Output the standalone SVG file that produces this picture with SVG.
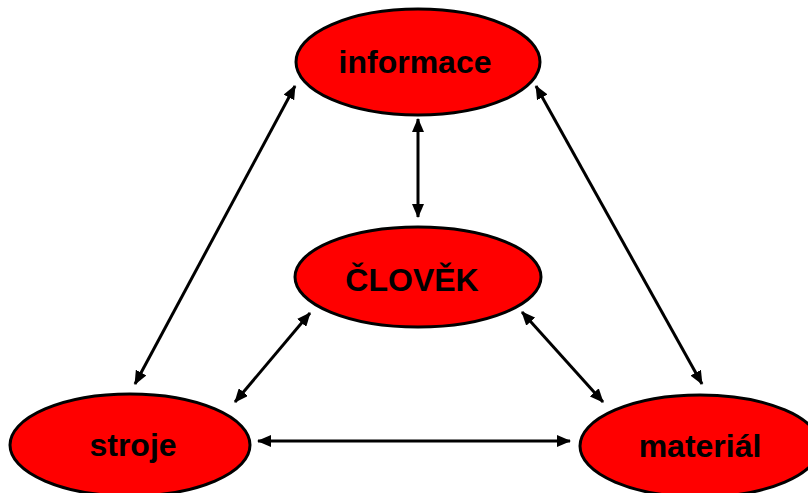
<svg xmlns="http://www.w3.org/2000/svg" width="808" height="493" viewBox="0 0 808 493">
<style>
.node ellipse{fill:#ff0000;stroke:#000;stroke-width:3}
.node text{font-family:"Liberation Sans",Arial,sans-serif;font-weight:bold;font-size:32px;fill:#000;text-anchor:middle}
#connectors line{stroke:#000;stroke-width:3;marker-start:url(#ah);marker-end:url(#ah)}
</style>
<defs>
<marker id="ah" viewBox="0 0 14 12" refX="13" refY="6" markerWidth="14" markerHeight="12" markerUnits="userSpaceOnUse" orient="auto-start-reverse">
<path d="M0,0 L14,6 L0,12 Z" fill="#000"/>
</marker>
</defs>
<rect width="808" height="493" fill="#fff"/>
<g id="connectors">
<line x1="418" y1="119" x2="418" y2="217"/>
<line x1="295" y1="86" x2="135" y2="384"/>
<line x1="536" y1="86" x2="702" y2="384"/>
<line x1="310" y1="313" x2="235" y2="402"/>
<line x1="522" y1="312" x2="603" y2="402"/>
<line x1="258" y1="441" x2="570" y2="441"/>
</g>
<g id="informace" class="node">
<ellipse cx="418" cy="62" rx="122" ry="53"/>
<text x="415" y="73">informace</text>
</g>
<g id="clovek" class="node">
<ellipse cx="418" cy="277" rx="123" ry="50"/>
<text x="412" y="291">ČLOVĚK</text>
</g>
<g id="stroje" class="node">
<ellipse cx="130" cy="445" rx="120" ry="51"/>
<text x="133" y="456">stroje</text>
</g>
<g id="material" class="node">
<ellipse cx="700" cy="446" rx="120" ry="51"/>
<text x="700" y="457">materiál</text>
</g>
</svg>
